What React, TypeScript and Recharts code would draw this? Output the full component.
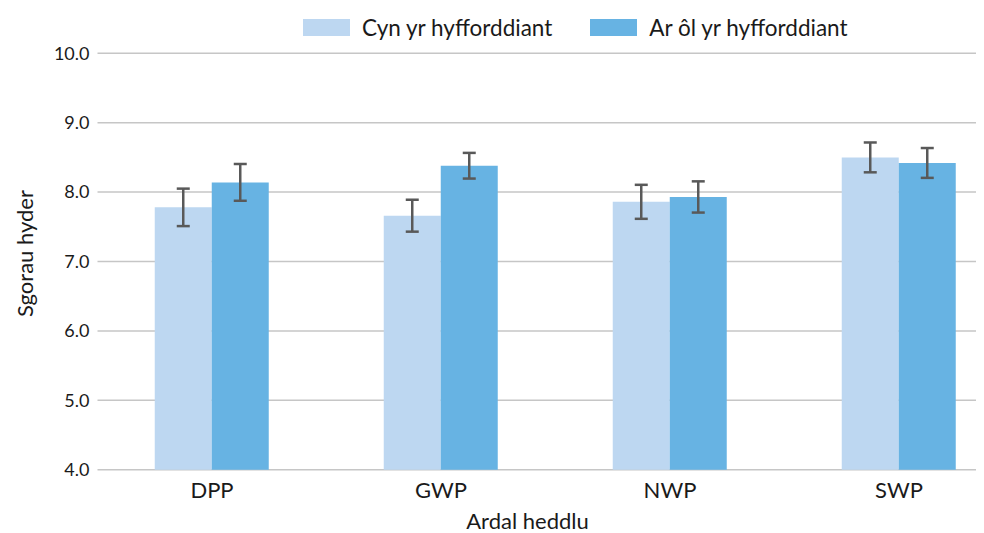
import {
    Bar,
    BarChart,
    CartesianGrid,
    ErrorBar,
    Legend,
    XAxis,
    YAxis,
} from 'recharts';

const categories = ['DPP', 'GWP', 'NWP', 'SWP'];
const beforeScores = [7.78, 7.66, 7.86, 8.5];
const afterScores = [8.14, 8.38, 7.93, 8.42];
const beforeErrors = [0.27, 0.23, 0.245, 0.215];
const afterErrors = [0.265, 0.185, 0.225, 0.215];
const yTicks = [4, 5, 6, 7, 8, 9, 10];

const seriesNames = ['Cyn yr hyfforddiant', 'Ar ôl yr hyfforddiant'];
const LIGHT = '#BDD7F1';
const DARK = '#67B3E3';
const FONT = 'Lato, "Open Sans", sans-serif';

const chartData = categories.map((name, i) => ({
    name,
    before: beforeScores[i],
    after: afterScores[i],
    beforeErr: beforeErrors[i],
    afterErr: afterErrors[i],
}));

const LegendContent = () => (
    <div
        style={{
            display: 'flex',
            alignItems: 'center',
            height: 34,
            fontFamily: FONT,
            fontSize: 22.5,
            color: '#1a1a1a',
            whiteSpace: 'nowrap',
        }}
    >
        {seriesNames.map((label, i) => (
            <div
                key={label}
                style={{ display: 'flex', alignItems: 'center', marginRight: 38 }}
            >
                <span
                    style={{
                        display: 'inline-block',
                        width: 47,
                        height: 17,
                        background: i === 0 ? LIGHT : DARK,
                        marginRight: 12,
                    }}
                />
                <span>{label}</span>
            </div>
        ))}
    </div>
);

const App = () => {
    return (
        <div style={{ width: 976, height: 525, overflow: 'hidden' }}>
            <BarChart
                width={1010}
                height={525}
                data={chartData}
                margin={{ top: 11.3, right: 4.5, left: 0, bottom: 0 }}
                barCategoryGap="25%"
                barGap={0}
            >
                <Legend
                    verticalAlign="top"
                    content={<LegendContent />}
                    wrapperStyle={{ top: 2, left: 295, width: 'auto' }}
                />
                <CartesianGrid vertical={false} stroke="#C6C6C6" strokeWidth={1.5} />
                <XAxis
                    dataKey="name"
                    axisLine={false}
                    tickLine={false}
                    height={63.3}
                    tickMargin={7}
                    tick={{ fontSize: 22, fill: '#1a1a1a', fontFamily: FONT }}
                    label={{
                        value: 'Ardal heddlu',
                        position: 'insideBottom',
                        offset: 4,
                        dx: -28,
                        style: { fontSize: 22, fill: '#1a1a1a', fontFamily: FONT },
                    }}
                />
                <YAxis
                    width={89.5}
                    domain={[4, 10]}
                    ticks={yTicks}
                    axisLine={false}
                    tickLine={false}
                    tickFormatter={(v: number) => v.toFixed(1)}
                    tick={{ fontSize: 18, fill: '#1a1a1a', fontFamily: FONT }}
                    label={{
                        value: 'Sgorau hyder',
                        angle: -90,
                        position: 'insideLeft',
                        offset: 17,
                        dy: -8,
                        style: {
                            textAnchor: 'middle',
                            fontSize: 22,
                            fill: '#1a1a1a',
                            fontFamily: FONT,
                        },
                    }}
                />
                <Bar dataKey="before" name={seriesNames[0]} fill={LIGHT} isAnimationActive={false}>
                    <ErrorBar dataKey="beforeErr" stroke="#595959" strokeWidth={2.5} width={6.5} />
                </Bar>
                <Bar dataKey="after" name={seriesNames[1]} fill={DARK} isAnimationActive={false}>
                    <ErrorBar dataKey="afterErr" stroke="#595959" strokeWidth={2.5} width={6.5} />
                </Bar>
            </BarChart>
        </div>
    );
};

export default App;
